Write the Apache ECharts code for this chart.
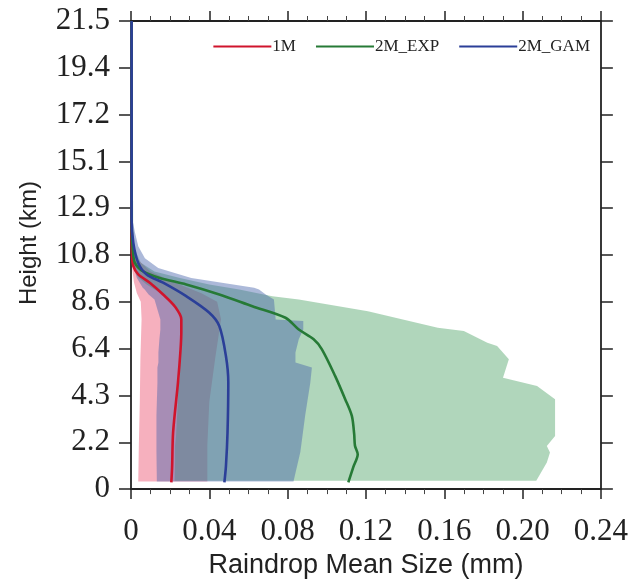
<!DOCTYPE html>
<html>
<head>
<meta charset="utf-8">
<script src="https://cdn.jsdelivr.net/npm/echarts@6/dist/echarts.min.js"></script>
<style>
  html, body { margin: 0; padding: 0; background: #fff; }
  #main { width: 631px; height: 584px; }
</style>
</head>
<body>
<div id="main"></div>
<script>
// tick labels
var yTickLabels = ['0', '2.2', '4.3', '6.4', '8.6', '10.8', '12.9', '15.1', '17.2', '19.4', '21.5'];

// mean profiles (size in mm, height in km)
var m1Height = [0.31, 1.0, 2.6, 4.9, 6.4, 7.2, 7.8, 8.4, 8.94, 9.48, 9.86, 10.24, 10.8, 12, 21.5];
var m1Size   = [0.0206, 0.021, 0.0215, 0.024, 0.0253, 0.0257, 0.0257, 0.0223, 0.0164, 0.0096, 0.0037, 0.0012, 0.0005, 0.0003, 0.0003];

var expHeight = [0.31, 1.0, 1.6, 1.99, 2.52, 3.36, 4.13, 5.19, 6.42, 6.88, 7.33, 7.87, 8.4, 8.94, 9.4, 9.7, 10.0, 10.39, 11.0, 12.0, 21.5];
var expSize   = [0.111, 0.1135, 0.1158, 0.1144, 0.114, 0.1128, 0.1094, 0.1043, 0.0975, 0.0933, 0.0857, 0.0789, 0.062, 0.0451, 0.0282, 0.0147, 0.0062, 0.002, 0.0009, 0.0004, 0.0003];

var gamHeight = [0.31, 1.07, 2.6, 4.9, 6.1, 7.49, 8.1, 8.86, 9.48, 9.86, 10.39, 11.3, 12.4, 21.5];
var gamSize   = [0.0477, 0.0485, 0.0493, 0.0497, 0.0485, 0.0451, 0.040, 0.0282, 0.0164, 0.008, 0.0037, 0.0012, 0.0003, 0.0003];

// spread bands (low / high size at each height)
var m1BandHeight = [0.35, 2, 4, 6, 7.8, 8.6, 9.0, 9.5, 10, 10.5, 11];
var m1BandLow    = [0.0037, 0.004, 0.0045, 0.0048, 0.0054, 0.005, 0.003, 0.0015, 0.0008, 0.0003, 0];
var m1BandHigh   = [0.039, 0.039, 0.040, 0.043, 0.046, 0.044, 0.036, 0.022, 0.010, 0.004, 0.001];

var gamBandHeight = [0.35, 1.7, 3.4, 4.9, 5.58, 5.81, 6.27, 6.88, 7.33, 7.72, 7.79, 8.71, 8.94, 9.17, 9.25, 9.7, 10.16, 10.6, 11.15, 11.8, 12.5];
var gamBandLow    = [0.0132, 0.013, 0.013, 0.0135, 0.0135, 0.014, 0.014, 0.0145, 0.015, 0.015, 0.015, 0.012, 0.009, 0.007, 0.006, 0.003, 0.0015, 0.0007, 0.0003, 0, 0];
var gamBandHigh   = [0.083, 0.0865, 0.089, 0.0916, 0.0924, 0.084, 0.084, 0.0857, 0.088, 0.088, 0.0739, 0.073, 0.0688, 0.0654, 0.0629, 0.0308, 0.0139, 0.0071, 0.0037, 0.002, 0.0005];

var expBandHeight = [0.38, 1.22, 1.68, 1.98, 2.44, 4.13, 4.74, 5.12, 5.96, 6.57, 6.72, 7.26, 7.41, 8.17, 8.71, 8.86, 9.17, 9.4, 9.7, 10.0, 10.4, 11, 12];
var expBandLow    = [0.0223, 0.0225, 0.0225, 0.0225, 0.023, 0.024, 0.024, 0.025, 0.025, 0.026, 0.026, 0.026, 0.026, 0.025, 0.02, 0.018, 0.012, 0.008, 0.004, 0.002, 0.001, 0, 0];
var expBandHigh   = [0.207, 0.2124, 0.214, 0.2124, 0.2166, 0.2166, 0.2074, 0.19, 0.193, 0.187, 0.182, 0.170, 0.1567, 0.121, 0.0857, 0.0722, 0.0553, 0.04, 0.025, 0.012, 0.005, 0.002, 0.0005];

function pairs(xs, ys) {
  return xs.map(function (x, i) { return [x, ys[i]]; });
}

function bandSeries(h, lo, hi, color) {
  return {
    type: 'custom',
    z: 1,
    silent: true,
    data: [[0, 0]],
    renderItem: function (params, api) {
      var pts = [];
      for (var i = 0; i < h.length; i++) pts.push(api.coord([lo[i], h[i]]));
      for (var j = h.length - 1; j >= 0; j--) pts.push(api.coord([hi[j], h[j]]));
      return {
        type: 'polygon',
        shape: { points: pts },
        style: { fill: color }
      };
    }
  };
}

function lineSeries(name, xs, ys, color) {
  return {
    name: name,
    type: 'line',
    z: 3,
    data: pairs(xs, ys),
    showSymbol: false,
    symbol: 'none',
    smooth: 0.3,
    lineStyle: { color: color, width: 2.6 },
    itemStyle: { color: color }
  };
}

var serif = 'Liberation Serif';
var sans = 'Liberation Sans';

// frame axes: bottom/left carry labels, top/right only ticks
function frameLine() {
  return { onZero: false, lineStyle: { color: '#222', width: 1.8 } };
}

var myChart = echarts.init(document.getElementById('main'));

var option = {
  animation: false,
  backgroundColor: '#fff',
  grid: { left: 131, right: 27, top: 21, bottom: 94 },
  legend: {
    right: 36,
    top: 33,
    icon: 'rect',
    itemWidth: 58,
    itemHeight: 2,
    itemGap: 20,
    textStyle: { fontFamily: serif, fontSize: 17, color: '#222', padding: [0, 0, 0, -4] },
    data: ['1M', '2M_EXP', '2M_GAM']
  },
  xAxis: [{
    type: 'value',
    min: 0,
    max: 0.24,
    interval: 0.04,
    position: 'bottom',
    name: 'Raindrop Mean Size (mm)',
    nameLocation: 'middle',
    nameGap: 62,
    nameTextStyle: { fontFamily: sans, fontSize: 27, color: '#222' },
    axisLine: frameLine(),
    axisTick: { length: 10, lineStyle: { color: '#222', width: 1.5 } },
    minorTick: { show: true, splitNumber: 4, length: 5, lineStyle: { color: '#444' } },
    splitLine: { show: false },
    axisLabel: {
      margin: 27,
      fontFamily: serif,
      fontSize: 31,
      color: '#222',
      formatter: function (v) { return v === 0 ? '0' : v.toFixed(2); }
    }
  }, {
    type: 'value',
    min: 0,
    max: 0.24,
    interval: 0.04,
    position: 'top',
    axisLine: frameLine(),
    axisTick: { length: 10, lineStyle: { color: '#222', width: 1.5 } },
    minorTick: { show: true, splitNumber: 4, length: 5, lineStyle: { color: '#444' } },
    splitLine: { show: false },
    axisLabel: { show: false }
  }],
  yAxis: [{
    type: 'value',
    min: 0,
    max: 21.5,
    interval: 2.15,
    position: 'left',
    name: 'Height (km)',
    nameLocation: 'middle',
    nameGap: 90,
    nameTextStyle: { fontFamily: sans, fontSize: 24, color: '#222', padding: [0, 0, 0, 24] },
    axisLine: frameLine(),
    axisTick: { length: 12, lineStyle: { color: '#222', width: 1.5 } },
    splitLine: { show: false },
    axisLabel: {
      margin: 21,
      fontFamily: serif,
      fontSize: 31,
      color: '#222',
      formatter: function (v) { return yTickLabels[Math.round(v / 2.15)]; }
    }
  }, {
    type: 'value',
    min: 0,
    max: 21.5,
    interval: 2.15,
    position: 'right',
    axisLine: frameLine(),
    axisTick: { length: 12, lineStyle: { color: '#222', width: 1.5 } },
    splitLine: { show: false },
    axisLabel: { show: false }
  }],
  series: [
    bandSeries(m1BandHeight, m1BandLow, m1BandHigh, 'rgba(235,80,110,0.45)'),
    bandSeries(expBandHeight, expBandLow, expBandHigh, 'rgba(80,165,105,0.45)'),
    bandSeries(gamBandHeight, gamBandLow, gamBandHigh, 'rgba(70,100,170,0.45)'),
    lineSeries('1M', m1Size, m1Height, '#d0142c'),
    lineSeries('2M_EXP', expSize, expHeight, '#267a36'),
    lineSeries('2M_GAM', gamSize, gamHeight, '#2b3f98')
  ]
};

myChart.setOption(option);
</script>
</body>
</html>
